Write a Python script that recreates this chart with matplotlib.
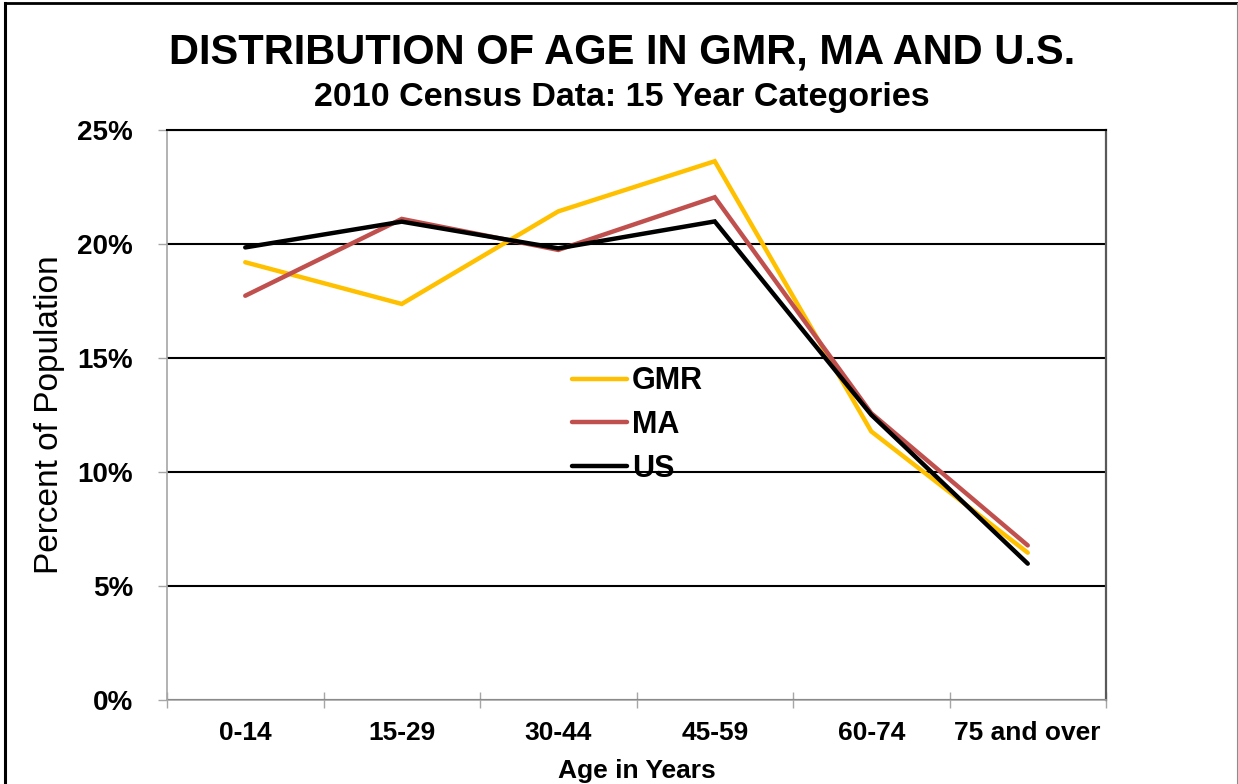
import numpy as np
import matplotlib
matplotlib.use("Agg")
import matplotlib.pyplot as plt
from matplotlib.lines import Line2D
from matplotlib.ticker import PercentFormatter

plt.rcParams["font.family"] = ["Liberation Sans", "DejaVu Sans"]

# ── Data (percent of population, 2010 census) ─────────────────────────────────
AGE_GROUPS = ["0-14", "15-29", "30-44", "45-59", "60-74", "75 and over"]
GMR_PCT    = [19.20, 17.37, 21.43, 23.63, 11.78, 6.46]
MA_PCT     = [17.73, 21.10, 19.74, 22.05, 12.58, 6.78]
US_PCT     = [19.85, 20.98, 19.81, 20.99, 12.51, 5.98]
Y_TICKS    = [0, 5, 10, 15, 20, 25]

SERIES = [("GMR", GMR_PCT, "#FFC000"),
          ("MA",  MA_PCT,  "#C0504D"),
          ("US",  US_PCT,  "#000000")]

W, H = 1238, 784
fig = plt.figure(figsize=(W / 100, H / 100), dpi=100)
ax = fig.add_axes([167 / W, 1 - 700 / H, 939 / W, 570 / H])

x = np.arange(len(AGE_GROUPS))
for name, vals, color in SERIES:
    ax.plot(x, vals, color=color, linewidth=3.2, label=name,
            solid_capstyle="round", solid_joinstyle="miter", zorder=3)

# y axis
ax.set_ylim(0, 25)
ax.set_yticks(Y_TICKS)
ax.yaxis.set_major_formatter(PercentFormatter(xmax=100, decimals=0))
ax.tick_params(axis="y", direction="out", length=6.5, width=1,
               color="#A6A6A6", pad=18, labelsize=20)
for lab in ax.get_yticklabels():
    lab.set_fontweight("bold")
ax.set_axisbelow(True)
ax.yaxis.grid(True, color="black", linewidth=1.5)

# x axis: ticks between categories, labels at centres
ax.set_xlim(-0.5, len(AGE_GROUPS) - 0.5)
ax.set_xticks(np.arange(-0.5, len(AGE_GROUPS)))
ax.set_xticklabels([])
ax.set_xticks(x, minor=True)
ax.set_xticklabels(AGE_GROUPS, minor=True, fontsize=19, fontweight="bold")
ax.tick_params(axis="x", which="major", direction="inout", length=12,
               width=1, color="#A6A6A6")
ax.tick_params(axis="x", which="minor", length=0, pad=15)

for side in ["left", "bottom"]:
    ax.spines[side].set_color("#A6A6A6")
    ax.spines[side].set_linewidth(1.2)
ax.spines["top"].set_color("black")
ax.spines["top"].set_linewidth(1.5)
ax.spines["right"].set_color("#595959")
ax.spines["right"].set_linewidth(1.6)

ax.set_xlabel("Age in Years", fontsize=19, fontweight="bold")
ax.xaxis.set_label_coords(0.5, -0.103)
ax.set_ylabel("Percent of Population", fontsize=24)
ax.yaxis.set_label_coords(-0.1086, 0.5)

ax.legend(loc="center left", bbox_to_anchor=(0.4313, 0.4825),
          frameon=False, borderpad=0, borderaxespad=0,
          handlelength=1.8, handletextpad=0.17, labelspacing=0.45,
          prop={"size": 22, "weight": "bold"})

fig.text(622 / W, 1 - 64 / H, "DISTRIBUTION OF AGE IN GMR, MA AND U.S.",
         ha="center", va="baseline", fontsize=30, fontweight="bold")
fig.text(622 / W, 1 - 106 / H, "2010 Census Data: 15 Year Categories",
         ha="center", va="baseline", fontsize=24.5, fontweight="bold")

# slide frame around the chart
fig.add_artist(Line2D([5 / W, 1], [1 - 3 / H, 1 - 3 / H], color="black", linewidth=2))
fig.add_artist(Line2D([5 / W, 5 / W], [0, 1 - 3 / H], color="black", linewidth=2.2))
fig.add_artist(Line2D([1236.5 / W, 1236.5 / W], [0, 1 - 3 / H], color="#8C8C8C", linewidth=0.8))

fig.savefig("out.png", dpi=100)
